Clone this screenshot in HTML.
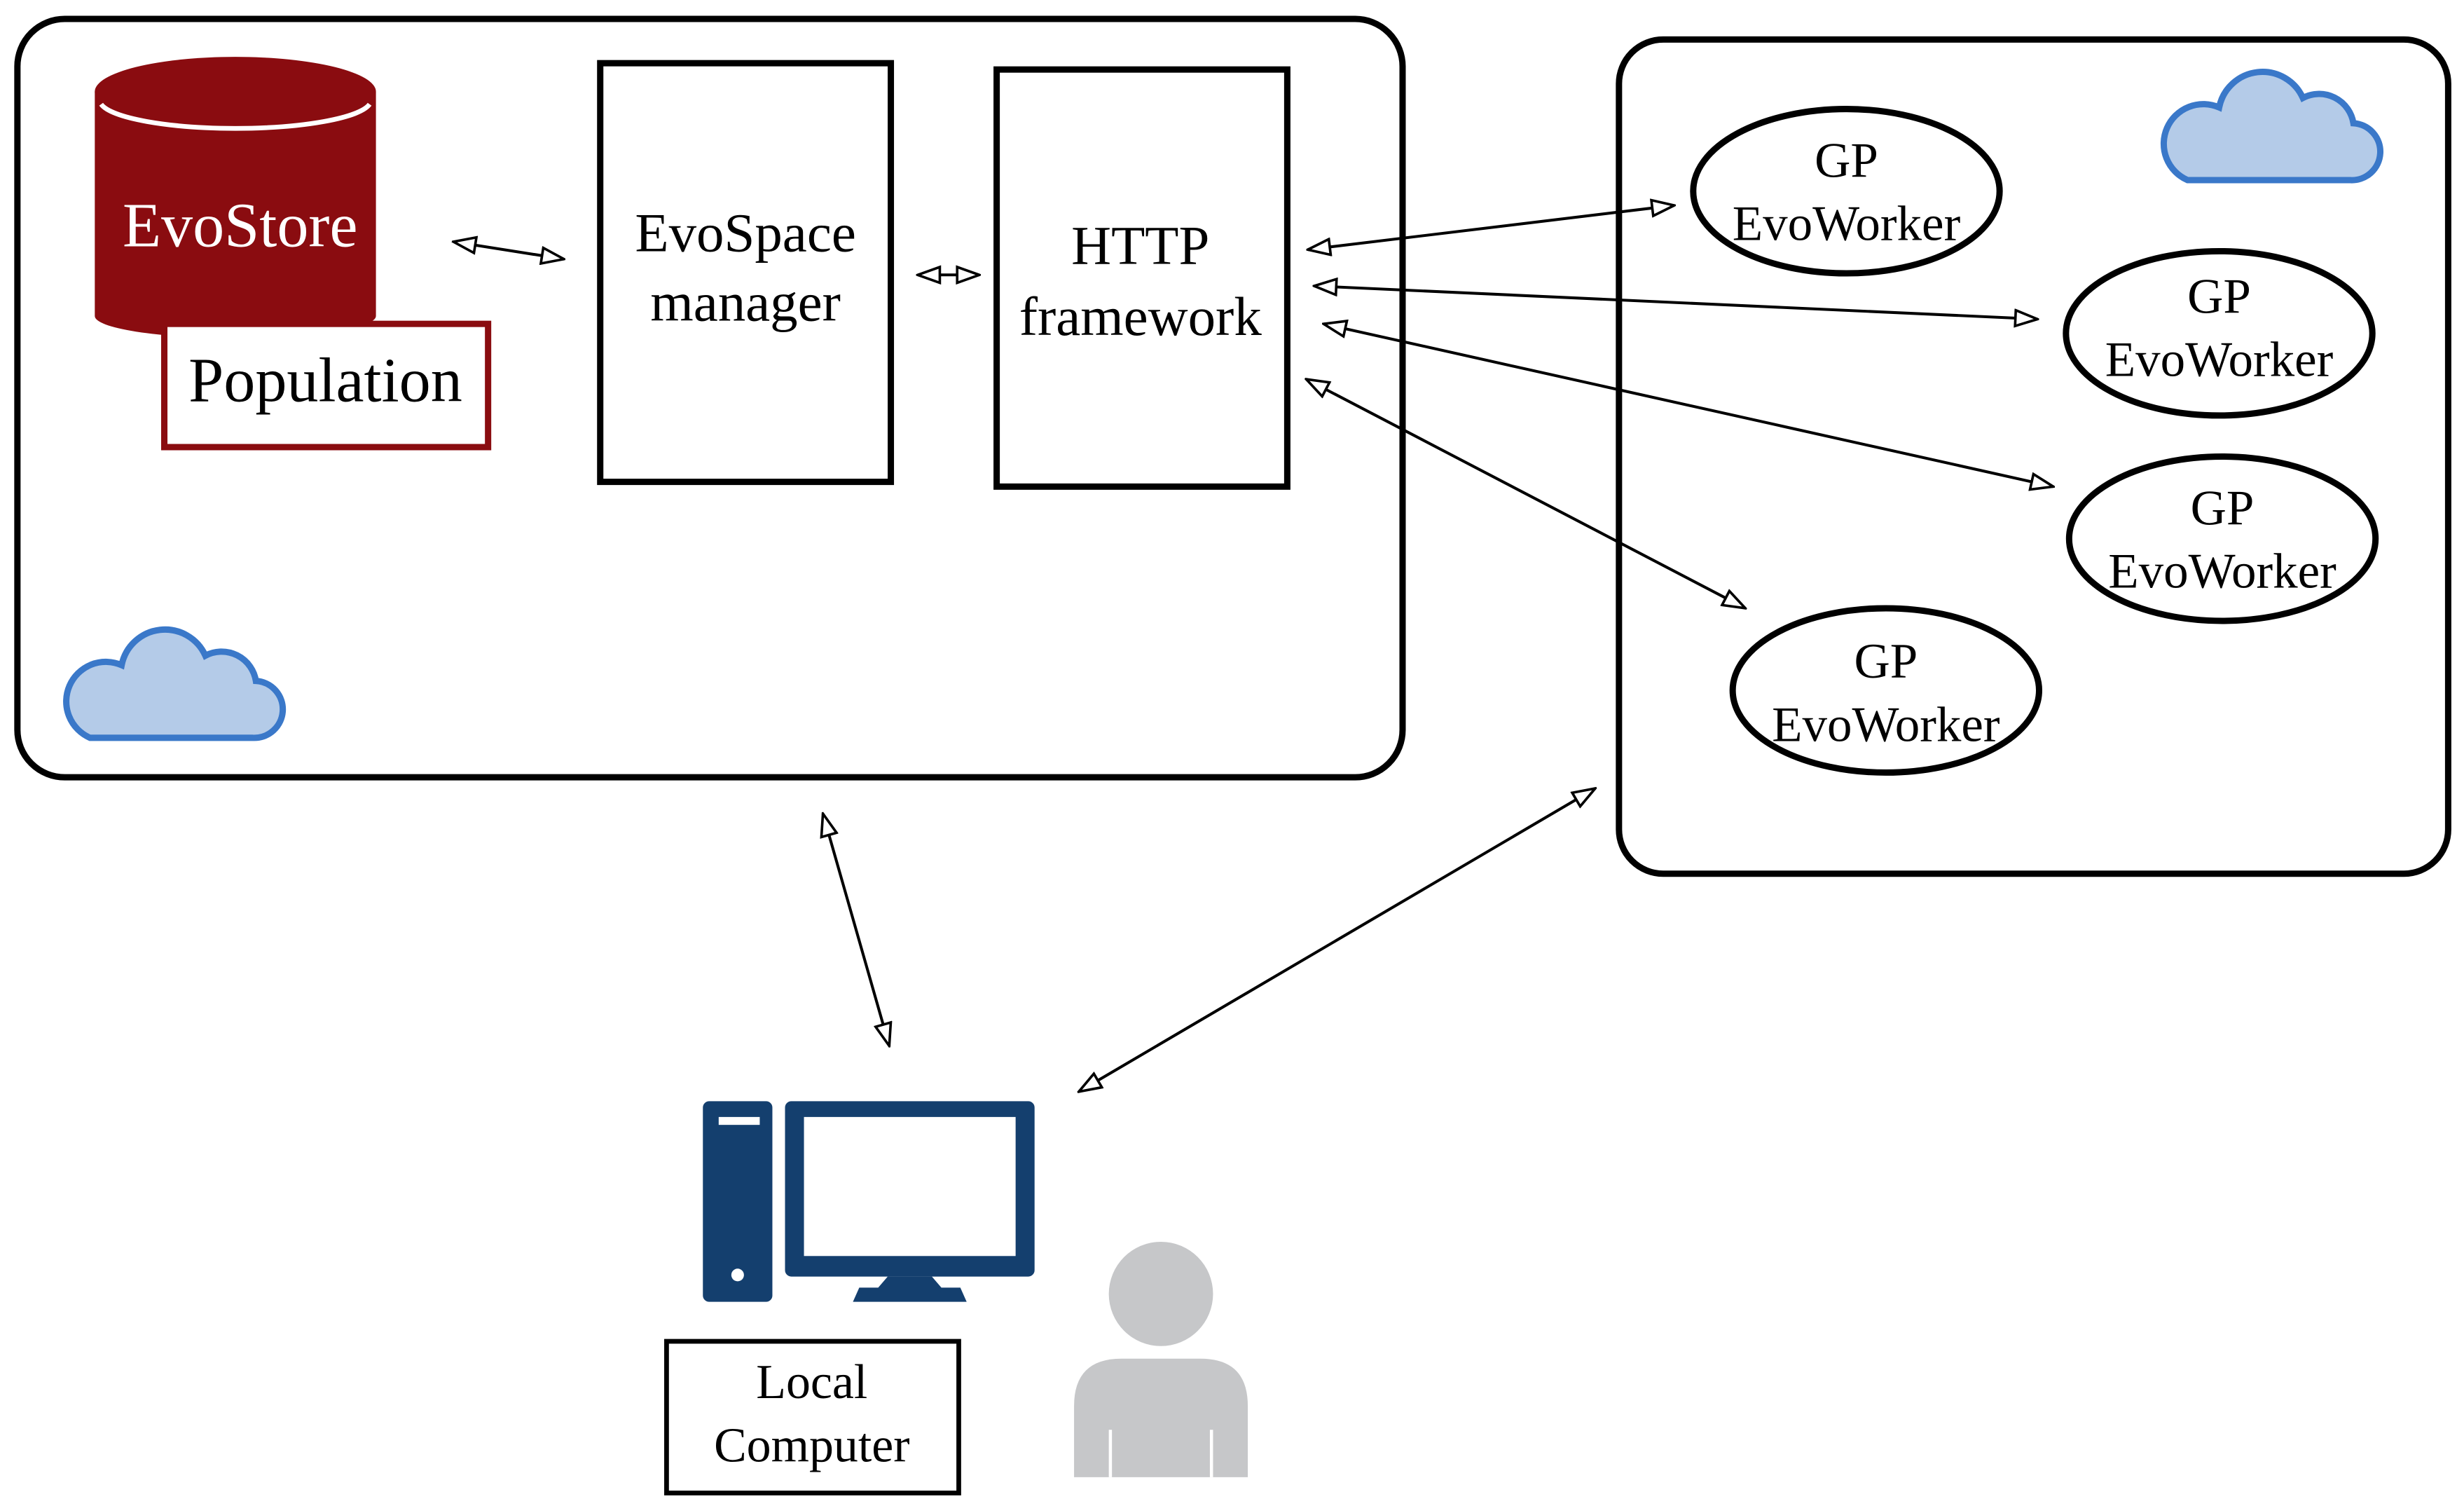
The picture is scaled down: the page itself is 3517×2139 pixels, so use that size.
<!DOCTYPE html>
<html><head><meta charset="utf-8"><style>
html,body{margin:0;padding:0;background:#fff;}
svg{display:block;}
text{font-family:"Liberation Serif",serif;}
</style></head><body>
<svg width="3517" height="2139" viewBox="0 0 1560 948.8" xmlns="http://www.w3.org/2000/svg">
<defs>
<marker id="a" viewBox="0 0 16 12" refX="15" refY="6" markerWidth="16" markerHeight="12" markerUnits="userSpaceOnUse" orient="auto-start-reverse">
<path d="M1,1 L15,6 L1,11 Z" fill="#fff" stroke="#000" stroke-width="1.6"/>
</marker>
</defs>
<rect width="1560" height="948.8" fill="#fff"/>
<rect x="11" y="12" width="877" height="480" rx="30" fill="none" stroke="#000" stroke-width="4"/>
<rect x="1025" y="25" width="525" height="528" rx="28" fill="none" stroke="#000" stroke-width="4"/>
<path d="M60,58 L60,200 A89,14 0 0 0 238,200 L238,58 Z" fill="#8a0c10"/>
<ellipse cx="149" cy="58" rx="89" ry="22" fill="#8a0c10"/>
<path d="M64,66 A86,18 0 0 0 234,66" fill="none" stroke="#fff" stroke-width="3"/>
<text x="152" y="156" font-size="40" fill="#fff" text-anchor="middle">EvoStore</text>
<rect x="104" y="205" width="205" height="78" fill="#fff" stroke="#8a0c10" stroke-width="4"/>
<text x="206" y="254" font-size="40" text-anchor="middle">Population</text>
<rect x="380" y="40" width="184" height="265" fill="#fff" stroke="#000" stroke-width="4"/>
<text x="472" y="159" font-size="35" text-anchor="middle">EvoSpace</text>
<text x="472" y="203" font-size="35" text-anchor="middle">manager</text>
<rect x="631" y="44" width="184" height="264" fill="#fff" stroke="#000" stroke-width="4"/>
<text x="722" y="167" font-size="35" text-anchor="middle">HTTP</text>
<text x="722" y="212" font-size="35" text-anchor="middle">framework</text>
<g font-size="31.5" text-anchor="middle">
<ellipse cx="1169" cy="121" rx="97" ry="52" fill="#fff" stroke="#000" stroke-width="4"/>
<text x="1169" y="112">GP</text><text x="1169" y="152">EvoWorker</text>
<ellipse cx="1405" cy="211" rx="97" ry="52" fill="#fff" stroke="#000" stroke-width="4"/>
<text x="1405" y="198">GP</text><text x="1405" y="238">EvoWorker</text>
<ellipse cx="1407" cy="341" rx="97" ry="52" fill="#fff" stroke="#000" stroke-width="4"/>
<text x="1407" y="332">GP</text><text x="1407" y="372">EvoWorker</text>
<ellipse cx="1194" cy="437" rx="97" ry="52" fill="#fff" stroke="#000" stroke-width="4"/>
<text x="1194" y="429">GP</text><text x="1194" y="469">EvoWorker</text>
</g>
<path d="M1385,114 L1488,114 A18,18 0 0 0 1490,78 A22,22 0 0 0 1458,62 A28,28 0 0 0 1405,68 A22,22 0 0 0 1385,114 Z" fill="#b4cbe8" stroke="#3a78c9" stroke-width="4"/>
<path transform="translate(-1328,353)" d="M1385,114 L1488,114 A18,18 0 0 0 1490,78 A22,22 0 0 0 1458,62 A28,28 0 0 0 1405,68 A22,22 0 0 0 1385,114 Z" fill="#b4cbe8" stroke="#3a78c9" stroke-width="4"/>
<g stroke="#000" stroke-width="1.8" fill="none" marker-start="url(#a)" marker-end="url(#a)">
<line x1="287" y1="153" x2="357" y2="164"/>
<line x1="581" y1="174" x2="620" y2="174"/>
<line x1="828" y1="158" x2="1060" y2="130"/>
<line x1="832" y1="181" x2="1290" y2="202"/>
<line x1="838" y1="205" x2="1300" y2="308"/>
<line x1="827" y1="240" x2="1105" y2="385"/>
<line x1="521" y1="515" x2="563" y2="662"/>
<line x1="683" y1="691" x2="1010" y2="499"/>
</g>
<rect x="445" y="697" width="44" height="127" rx="4" fill="#143f6e"/>
<rect x="455" y="707" width="26" height="5" fill="#fff"/>
<circle cx="467" cy="807" r="4" fill="#fff"/>
<rect x="497" y="697" width="158" height="111" rx="4" fill="#143f6e"/>
<rect x="509" y="707" width="134" height="88" fill="#fff"/>
<path d="M562,808 L590,808 L596,815 L608,815 L612,824 L540,824 L544,815 L556,815 Z" fill="#143f6e"/>
<rect x="422" y="849" width="185" height="96" fill="#fff" stroke="#000" stroke-width="3"/>
<text x="514" y="885" font-size="31" text-anchor="middle">Local</text>
<text x="514" y="925" font-size="31" text-anchor="middle">Computer</text>
<circle cx="735" cy="819" r="33" fill="#c6c7c9"/>
<path d="M680,935 L680,890 Q680,860 710,860 L760,860 Q790,860 790,890 L790,935 Z" fill="#c6c7c9"/>
<line x1="703" y1="905" x2="703" y2="935" stroke="#fff" stroke-width="2"/>
<line x1="767" y1="905" x2="767" y2="935" stroke="#fff" stroke-width="2"/>
</svg>
</body></html>
